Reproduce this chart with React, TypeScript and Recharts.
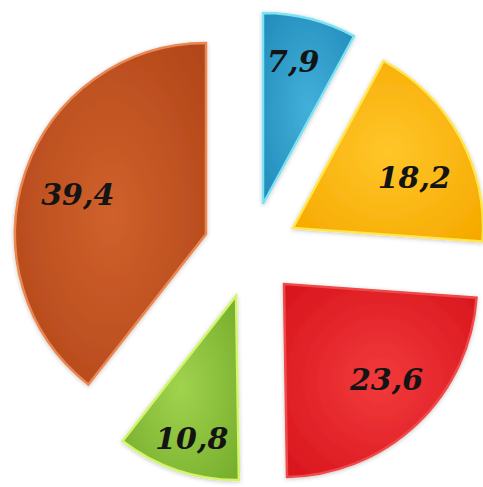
import React from 'react';
import { PieChart, Pie, Cell } from 'recharts';

// ---- data ----
const categories = ['A', 'B', 'C', 'D', 'E'];
const values = [7.9, 18.2, 23.6, 10.8, 39.4];
const valueLabels = ['7,9', '18,2', '23,6', '10,8', '39,4'];

// ---- styles / layout ----
const lightColors = ['#42b0da', '#ffc62a', '#f23a3c', '#a0d34e', '#d0612c'];
const darkColors = ['#248dbc', '#f6aa00', '#d9171e', '#78af2d', '#b3471a'];
const strokes = ['#7fe2f2', '#ffe64f', '#f04848', '#d4f46c', '#ea8752'];
const explode: [number, number][] = [
  [12, -46],
  [42, -22],
  [33, 34],
  [-15, 46],
  [-45, -16],
];
const radii = [191, 190, 193, 184, 191];
const labelFactors = [0.75, 0.71, 0.72, 0.79, 0.71];
const labelNudge: [number, number][] = [
  [-5, -4],
  [3, 14],
  [7, -5],
  [2, 5],
  [0, 5],
];
const BASE_X = 246;
const BASE_Y = 245;
const RAD = Math.PI / 180;

const data = categories.map((c, i) => ({ name: c, value: values[i] }));

const makeLabel = (target: number) => (props: any) => {
  const { cx, cy, midAngle, outerRadius, index } = props;
  if (index !== target) return null;
  const r = outerRadius * labelFactors[index];
  const x = cx + r * Math.cos(-midAngle * RAD) + labelNudge[index][0];
  const y = cy + r * Math.sin(-midAngle * RAD) + labelNudge[index][1];
  return (
    <text
      x={x}
      y={y}
      textAnchor="middle"
      dominantBaseline="central"
      fill="#141414"
      fontFamily="'DejaVu Serif', serif"
      fontWeight="bold"
      fontStyle="italic"
      fontSize={30}
    >
      {valueLabels[index]}
    </text>
  );
};

export default function App() {
  return (
    <div style={{ position: 'absolute', left: 0, top: 0, background: '#fff' }}>
      <PieChart width={483} height={487}>
        <defs>
          {categories.map((c, i) => (
            <radialGradient key={c} id={`g${i}`} cx="50%" cy="50%" r="65%">
              <stop offset="0%" stopColor={lightColors[i]} />
              <stop offset="100%" stopColor={darkColors[i]} />
            </radialGradient>
          ))}
          <filter id="sh" x="-20%" y="-20%" width="140%" height="140%">
            <feDropShadow dx="0" dy="1" stdDeviation="2" floodColor="#000" floodOpacity="0.22" />
          </filter>
        </defs>
        {categories.map((c, i) => (
          <Pie
            key={c}
            data={data}
            dataKey="value"
            nameKey="name"
            cx={BASE_X + explode[i][0]}
            cy={BASE_Y + explode[i][1]}
            innerRadius={0}
            outerRadius={radii[i]}
            startAngle={90}
            endAngle={-270}
            paddingAngle={0}
            isAnimationActive={false}
            labelLine={false}
            label={makeLabel(i)}
          >
            {data.map((d, j) => (
              <Cell
                key={d.name}
                fill={j === i ? `url(#g${i})` : 'none'}
                stroke={j === i ? strokes[i] : 'none'}
                strokeWidth={j === i ? 2.5 : 0}
                filter={j === i ? 'url(#sh)' : undefined}
              />
            ))}
          </Pie>
        ))}
      </PieChart>
    </div>
  );
}
